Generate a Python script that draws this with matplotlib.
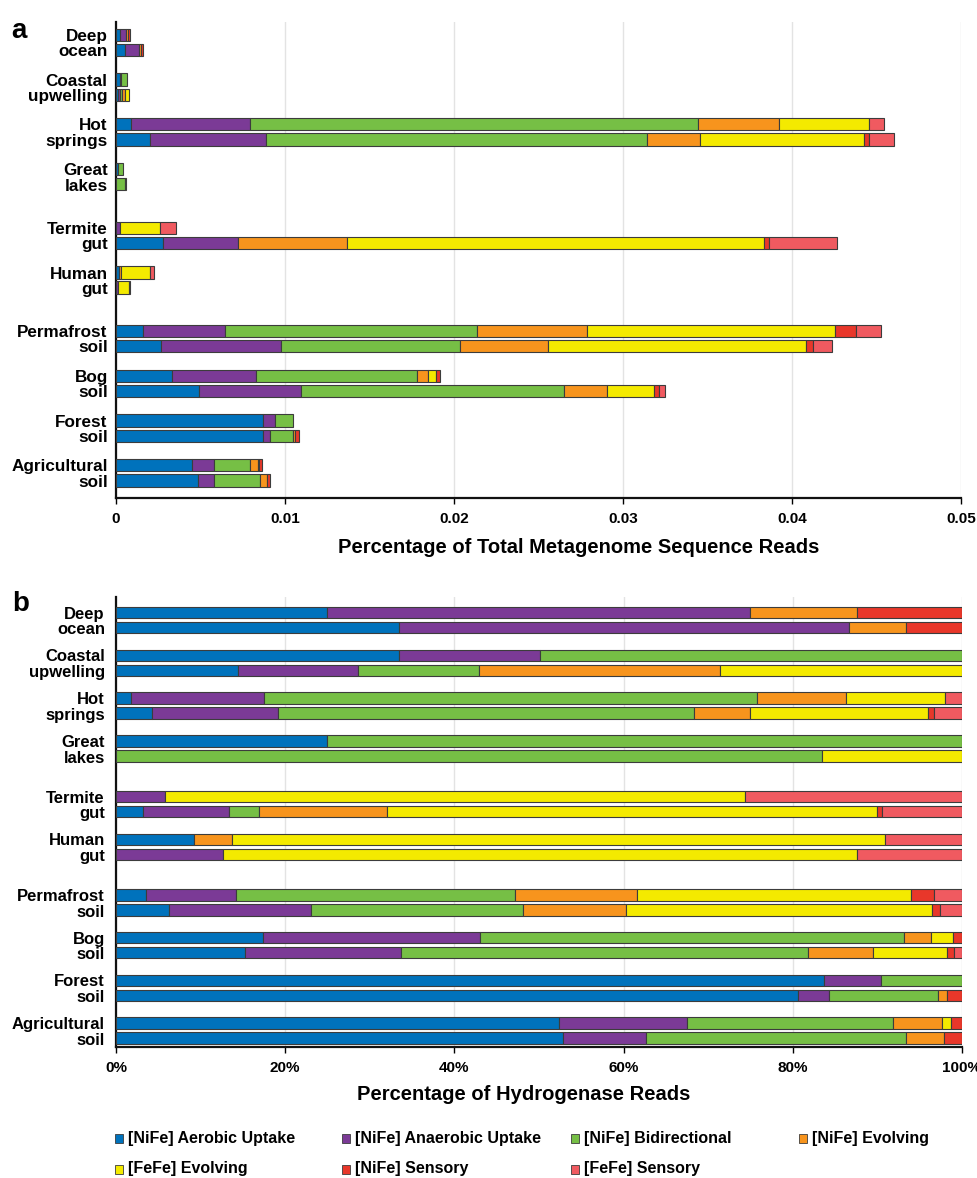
import numpy as np
import matplotlib
matplotlib.use("Agg")
import matplotlib.pyplot as plt
from matplotlib import font_manager
from matplotlib.patches import Rectangle

plt.rcParams['font.family'] = ['Liberation Sans', 'DejaVu Sans']
plt.rcParams['font.weight'] = 'bold'

environments = ["Deep\nocean", "Coastal\nupwelling", "Hot\nsprings", "Great\nlakes",
                "Termite\ngut", "Human\ngut", "Permafrost\nsoil", "Bog\nsoil",
                "Forest\nsoil", "Agricultural\nsoil"]
categories = ["[NiFe] Aerobic Uptake", "[NiFe] Anaerobic Uptake", "[NiFe] Bidirectional",
              "[NiFe] Evolving", "[FeFe] Evolving", "[NiFe] Sensory", "[FeFe] Sensory"]
colors = ["#0072BC", "#7B3A96", "#76BF45", "#F7941D", "#F4EA00", "#E8372A", "#F05A60"]

# two samples per environment, order: upper bar, lower bar
abs_aerobic = [0.00021, 0.00053, 0.00021, 0.00011, 0.00087, 0.00203, 0.00011, 0, 0, 0.00276,
               0.00020, 0, 0.00162, 0.00264, 0.00333, 0.00493, 0.00872, 0.00872, 0.00452, 0.00483]
abs_anaerobic = [0.00041, 0.00084, 0.00011, 0.00011, 0.00708, 0.00683, 0, 0, 0.00024, 0.00448,
                 0, 0.00011, 0.00481, 0.00710, 0.00494, 0.00602, 0.00071, 0.00041, 0.00130, 0.00095]
abs_bidirectional = [0, 0, 0.00031, 0.00011, 0.02651, 0.02258, 0.00032, 0.00051, 0, 0,
                     0, 0, 0.01491, 0.01062, 0.00956, 0.01558, 0.00102, 0.00136, 0.00209, 0.00274]
abs_nife_evolving = [0.00011, 0.00011, 0, 0.00021, 0.00479, 0.00313, 0, 0, 0, 0.00641,
                     0.00010, 0, 0.00653, 0.00518, 0.00063, 0.00254, 0, 0.00010, 0.00049, 0.00040]
abs_fefe_evolving = [0, 0, 0, 0.00021, 0.00532, 0.00971, 0, 0.00010, 0.00238, 0.02471,
                     0.00173, 0.00064, 0.01469, 0.01529, 0.00047, 0.00276, 0, 0, 0.00008, 0]
abs_nife_sensory = [0.00010, 0.00010, 0, 0, 0, 0.00029, 0, 0, 0, 0.00030,
                    0, 0, 0.00123, 0.00043, 0.00024, 0.00032, 0, 0.00026, 0.00016, 0.00021]
abs_fefe_sensory = [0, 0, 0, 0, 0.00089, 0.00148, 0, 0, 0.00093, 0.00398,
                    0.00020, 0.00010, 0.00148, 0.00111, 0, 0.00032, 0, 0, 0, 0]

pct_aerobic = [25.0, 33.4, 33.4, 14.4, 1.8, 4.3, 25.0, 0, 0, 3.2,
               9.2, 0, 3.6, 6.3, 17.4, 15.2, 83.7, 80.6, 52.4, 52.8]
pct_anaerobic = [50.0, 53.3, 16.7, 14.2, 15.7, 14.8, 0, 0, 5.8, 10.1,
                 0, 12.7, 10.6, 16.7, 25.6, 18.5, 6.7, 3.7, 15.1, 9.9]
pct_bidirectional = [0, 0, 49.9, 14.3, 58.3, 49.2, 75.0, 83.4, 0, 3.6,
                     0, 0, 33.0, 25.1, 50.2, 48.1, 9.6, 12.9, 24.4, 30.7]
pct_nife_evolving = [12.6, 6.7, 0, 28.5, 10.5, 6.7, 0, 0, 0, 15.1,
                     4.5, 0, 14.4, 12.2, 3.1, 7.7, 0, 1.0, 5.7, 4.5]
pct_fefe_evolving = [0, 0, 0, 28.6, 11.7, 21.0, 0, 16.6, 68.5, 57.9,
                     77.2, 74.9, 32.4, 36.1, 2.6, 8.7, 0, 0, 1.1, 0]
pct_nife_sensory = [12.4, 6.6, 0, 0, 0, 0.7, 0, 0, 0, 0.7,
                    0, 0, 2.7, 1.0, 1.1, 0.8, 0, 1.8, 1.3, 2.1]
pct_fefe_sensory = [0, 0, 0, 0, 2.0, 3.3, 0, 0, 25.7, 9.4,
                    9.1, 12.4, 3.3, 2.6, 0, 1.0, 0, 0, 0, 0]

abs_series = [abs_aerobic, abs_anaerobic, abs_bidirectional, abs_nife_evolving,
              abs_fefe_evolving, abs_nife_sensory, abs_fefe_sensory]
pct_series = [pct_aerobic, pct_anaerobic, pct_bidirectional, pct_nife_evolving,
              pct_fefe_evolving, pct_nife_sensory, pct_fefe_sensory]

# group layout: extra gap between water / gut / soil blocks
group_pos = np.array([0, 1, 2, 3, 4.3, 5.3, 6.6, 7.6, 8.6, 9.6])

try:
    font_manager.findfont('Liberation Sans Narrow', fallback_to_default=False)
    narrow = ['Liberation Sans Narrow', 'Liberation Sans']
except Exception:
    narrow = ['Liberation Sans', 'DejaVu Sans']


def draw_panel(ax, series, off, height, family, label_size, spacing, pad):
    ypos = np.ravel(np.column_stack([group_pos - off, group_pos + off]))
    left = np.zeros(len(ypos))
    for vals, col in zip(series, colors):
        v = np.array(vals, dtype=float)
        m = v > 0
        ax.barh(ypos[m], v[m], left=left[m], height=height, color=col,
                edgecolor='#3c3c3c', linewidth=0.8, zorder=3)
        left += v
    ax.set_yticks(group_pos)
    ax.set_yticklabels(environments, fontsize=label_size, fontweight='bold',
                       family=family, linespacing=spacing, ha='right')
    ax.tick_params(axis='y', length=0, pad=pad)
    ax.tick_params(axis='x', length=4, width=1, direction='out', labelsize=11, pad=6)
    for lab in ax.get_xticklabels():
        lab.set_fontweight('bold')
        lab.set_family(family)
    for s in ['top', 'right']:
        ax.spines[s].set_visible(False)
    for s in ['left', 'bottom']:
        ax.spines[s].set_linewidth(1.6)
        ax.spines[s].set_color('#111111')
    ax.grid(axis='x', color='#e3e3e3', linewidth=1.0, zorder=0)
    ax.set_axisbelow(True)


fig = plt.figure(figsize=(9.78, 11.78), dpi=100)

# panel a
ax1 = fig.add_axes([0.1186, 0.5772, 0.8640, 0.4041])
ax1.set_xlim(0, 0.05)
ax1.set_xticks([0, 0.01, 0.02, 0.03, 0.04, 0.05])
ax1.set_xticklabels(["0", "0.01", "0.02", "0.03", "0.04", "0.05"])
ax1.set_ylim(10.16, -0.45)
draw_panel(ax1, abs_series, 0.168, 0.27, ['Liberation Sans', 'DejaVu Sans'], 12.3, 1.02, 6)
ax1.set_xlabel("Percentage of Total Metagenome Sequence Reads", fontsize=14.5,
               fontweight='bold')
ax1.xaxis.set_label_coords(0.548, -0.083)

# panel b
ax2 = fig.add_axes([0.1186, 0.1112, 0.8650, 0.3820])
ax2.set_xlim(0, 100)
ax2.set_xticks([0, 20, 40, 60, 80, 100])
ax2.set_xticklabels(["0%", "20%", "40%", "60%", "80%", "100%"])
ax2.set_ylim(9.98, -0.54)
draw_panel(ax2, pct_series, 0.175, 0.27, narrow, 12, 1.05, 8)
ax2.set_xlabel("Percentage of Hydrogenase Reads", fontsize=14.5, fontweight='bold',
               family=narrow)
ax2.xaxis.set_label_coords(0.482, -0.085)

fig.text(0.012, 0.985, "a", fontsize=20, fontweight='bold', va='top')
fig.text(0.012, 0.498, "b", fontsize=20, fontweight='bold', va='top')

# legend, laid out in two rows like the original
W, H = 978.0, 1178.0
col_x = [119, 346, 575, 803]
row_y = [1138, 1169]
order = [(0, 0), (0, 1), (0, 2), (0, 3), (1, 0), (1, 1), (1, 2)]
for (r, c), name, col in zip(order, categories, colors):
    x0 = col_x[c] / W
    y0 = 1 - row_y[r] / H
    fig.patches.append(Rectangle((x0 - 4 / W, y0 - 4.5 / H), 8 / W, 9 / H,
                                 transform=fig.transFigure, facecolor=col,
                                 edgecolor='#3c3c3c', linewidth=0.6))
    fig.text(x0 + 9 / W, y0, name, fontsize=11.5, fontweight='bold', family=narrow,
             va='center', ha='left')

fig.savefig("out.png", dpi=100)
